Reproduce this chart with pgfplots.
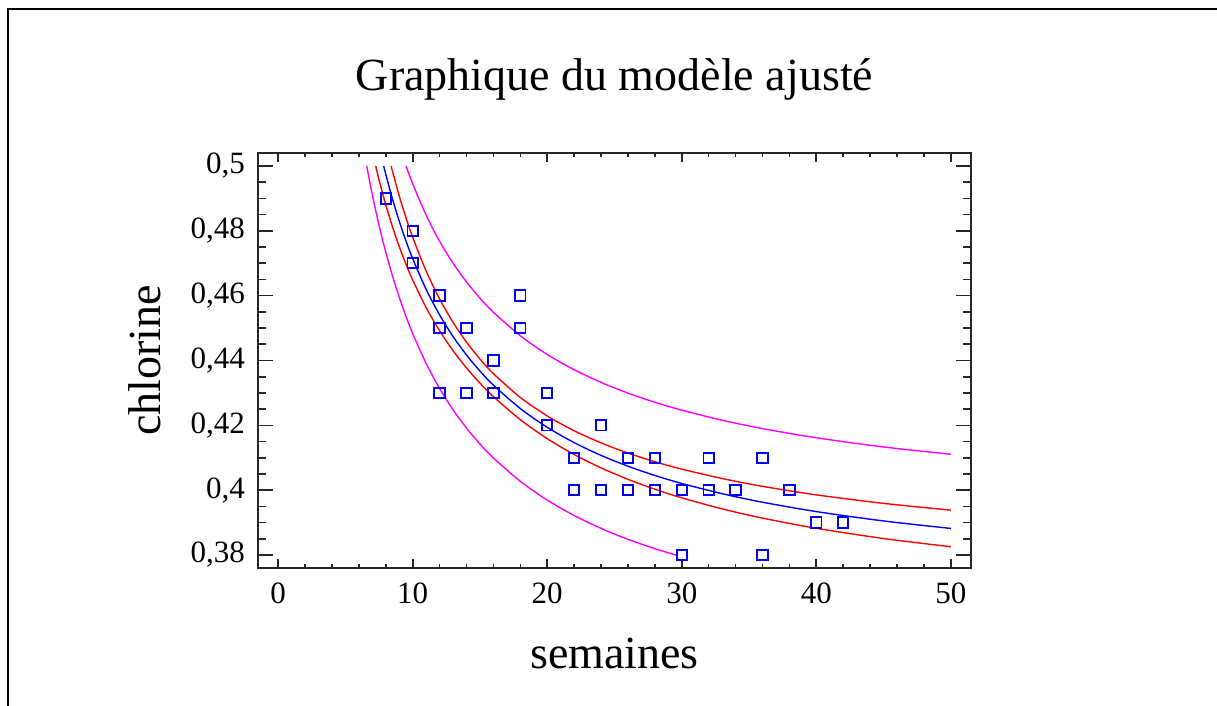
\documentclass[border=0pt]{standalone}
\usepackage{pgfplots}
\pgfplotsset{compat=1.18}
\usepackage{fontspec}
\setmainfont{Liberation Serif}
\definecolor{cblue}{RGB}{0,0,255}
\definecolor{cred}{RGB}{255,0,0}
\definecolor{cmag}{RGB}{255,0,255}
\begin{document}
\begin{tikzpicture}
\useasboundingbox (0,0) rectangle (608.5pt,353pt);
\draw[line width=1pt] (4pt,0) -- (4pt,348.5pt) -- (608.5pt,348.5pt);
\begin{axis}[
  at={(129pt,69pt)}, anchor=south west,
  scale only axis, width=356.5pt, height=207.5pt,
  xmin=-1.5, xmax=51.5, ymin=0.376, ymax=0.504,
  xtick={0,10,20,30,40,50},
  ytick={0.38,0.4,0.42,0.44,0.46,0.48,0.5},
  minor x tick num=4, minor y tick num=3,
  tick align=inside,
  axis line style={black!85, line width=0.8pt},
  every tick/.style={black!85, line width=0.8pt},
  x tick style={/pgfplots/major tick length=4.5pt, /pgfplots/minor tick length=2pt},
  y tick style={/pgfplots/major tick length=7.5pt, /pgfplots/minor tick length=4pt},
  /pgf/number format/assume math mode=true,
  ticklabel style={font=\fontsize{15.5pt}{18pt}\selectfont},
  xticklabel style={yshift=-4pt},
  yticklabel style={xshift=-3pt, /pgf/number format/fixed, /pgf/number format/precision=2, /pgf/number format/use comma},
  title={Graphique du modèle ajusté},
  title style={at={(axis description cs:0.5,1.1205)}, anchor=base, font=\fontsize{23pt}{27pt}\selectfont},
  xlabel={semaines},
  xlabel style={at={(axis description cs:0.5,-0.241)}, anchor=base, font=\fontsize{23pt}{27pt}\selectfont},
  ylabel={chlorine},
  ylabel style={at={(axis description cs:-0.1374,0.5)}, anchor=base, font=\fontsize{23pt}{27pt}\selectfont},
]
% prediction limits (magenta)
\addplot[cmag, line width=0.7pt, smooth] coordinates {
(9.51,0.5) (10,0.494506) (11,0.484813) (12,0.476776) (13,0.470004) (14,0.464222) (15,0.459225) (16,0.454867) (18,0.447629) (20,0.441861) (22,0.437157) (24,0.433248) (26,0.429948) (28,0.427125) (30,0.424682) (33,0.421578) (36,0.418996) (40,0.416161) (45,0.41333) (50,0.41107)};
\addplot[cmag, line width=0.7pt, smooth] coordinates {
(6.583,0.5) (7,0.491091) (7.5,0.481667) (8,0.473383) (8.5,0.466041) (9,0.45949) (9.5,0.453607) (10,0.448294) (11,0.439077) (12,0.431358) (13,0.424796) (14,0.41915) (15,0.414241) (16,0.409933) (18,0.402727) (20,0.396939) (22,0.392189) (24,0.388218) (26,0.384852) (28,0.381961) (29.56,0.38)};
% confidence limits (red)
\addplot[cred, line width=0.7pt, smooth] coordinates {
(8.40,0.5) (8.5,0.498309) (9,0.490764) (9.5,0.484027) (10,0.477979) (11,0.467578) (12,0.458978) (13,0.45177) (14,0.445665) (15,0.440446) (16,0.435947) (18,0.428613) (20,0.422904) (22,0.418334) (24,0.414586) (26,0.411452) (28,0.408788) (30,0.406496) (33,0.403594) (36,0.40119) (40,0.398556) (45,0.395934) (50,0.393842)};
\addplot[cred, line width=0.7pt, smooth] coordinates {
(7.253,0.5) (7.5,0.49567) (8,0.487988) (8.5,0.481197) (9,0.475148) (9.5,0.469721) (10,0.464821) (11,0.456312) (12,0.449156) (13,0.44303) (14,0.437707) (15,0.43302) (16,0.428853) (18,0.421743) (20,0.415896) (22,0.411012) (24,0.40688) (26,0.403348) (28,0.400298) (30,0.397638) (33,0.394236) (36,0.391388) (40,0.388244) (45,0.385088) (50,0.382558)};
% fitted model (blue)
\addplot[cblue, line width=0.7pt, smooth] coordinates {
(7.843,0.5) (8,0.4974) (8.5,0.489753) (9,0.482956) (9.5,0.476874) (10,0.4714) (11,0.461945) (12,0.454067) (13,0.4474) (14,0.441686) (15,0.436733) (16,0.4324) (18,0.425178) (20,0.4194) (22,0.414673) (24,0.410733) (26,0.4074) (28,0.404543) (30,0.402067) (33,0.398915) (36,0.396289) (40,0.3934) (45,0.390511) (50,0.3882)};
% observations
\addplot[cblue, only marks, mark=square, mark size=2.6pt, mark options={line width=0.95pt}] coordinates {
(8,0.49) (10,0.48) (10,0.47) (12,0.46) (12,0.45) (12,0.43) (14,0.45) (14,0.43)
(16,0.44) (16,0.43) (18,0.46) (18,0.45) (20,0.43) (20,0.42) (22,0.41) (22,0.40)
(24,0.42) (24,0.40) (26,0.41) (26,0.40) (28,0.41) (28,0.40) (30,0.40) (30,0.38)
(32,0.41) (32,0.40) (34,0.40) (36,0.41) (36,0.38) (38,0.40) (40,0.39) (42,0.39)};
\end{axis}
\end{tikzpicture}
\end{document}
